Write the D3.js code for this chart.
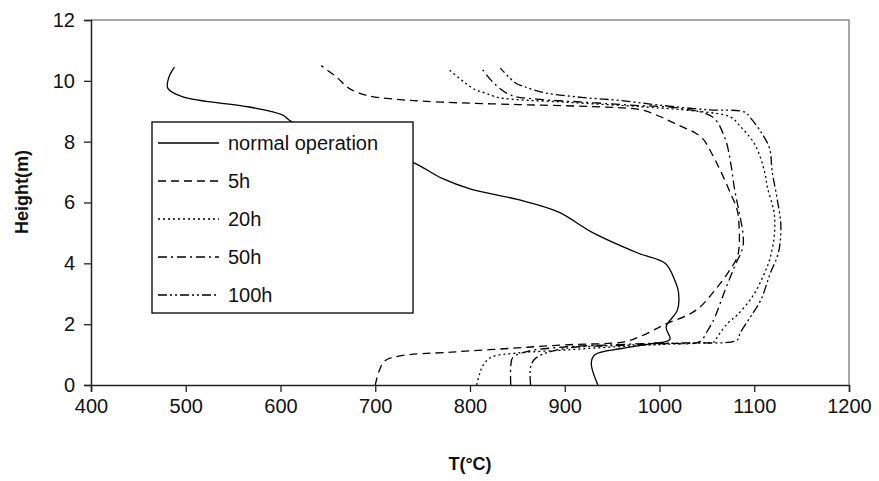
<!DOCTYPE html>
<html>
<head>
<meta charset="utf-8">
<script src="https://cdn.jsdelivr.net/npm/d3@7"></script>
<style>
  body { margin: 0; background: #fff; }
  svg text { font-family: "Liberation Sans", Arial, sans-serif; fill: #111; }
</style>
</head>
<body>
<div id="chart"></div>
<script>
// temperature (°C) / height (m) pairs
var normalT = [935, 928, 932, 960, 990, 1011, 1007, 1019, 1020, 1016, 1006, 977, 930, 893, 850, 800, 770, 739, 680, 612, 602, 567, 497, 481, 482, 488]
var normalH = [0, 0.72, 1.0, 1.2, 1.35, 1.5, 1.91, 2.47, 3.05, 3.45, 4.0, 4.34, 5.0, 5.69, 6.1, 6.45, 6.8, 7.33, 7.9, 8.65, 8.88, 9.14, 9.47, 9.76, 10.1, 10.45]

var h5T = [700, 709, 725, 780, 840, 900, 963, 980, 998, 1006, 1030, 1043, 1058, 1072, 1082, 1084, 1084, 1082, 1075, 1065, 1056, 1044, 1016, 995, 980, 930, 850, 770, 720, 690, 672, 660, 643]
var h5H = [0, 0.76, 0.95, 1.08, 1.2, 1.32, 1.42, 1.6, 1.87, 2.0, 2.3, 2.57, 3.1, 3.68, 4.2, 4.54, 5.2, 5.75, 6.3, 7.0, 7.56, 8.15, 8.6, 8.9, 9.05, 9.15, 9.22, 9.3, 9.4, 9.53, 9.76, 10.1, 10.5]

var h20T = [807, 810, 814, 823, 850, 900, 950, 1000, 1040, 1058, 1061, 1072, 1082, 1098, 1109, 1116, 1121, 1121, 1114, 1111, 1101, 1086, 1075, 1040, 980, 900, 830, 816, 806, 795, 778]
var h20H = [0, 0.35, 0.66, 0.92, 1.05, 1.15, 1.25, 1.33, 1.38, 1.42, 1.58, 2.03, 2.3, 2.9, 3.55, 4.1, 4.87, 5.65, 6.48, 7.0, 7.89, 8.48, 8.81, 9.0, 9.15, 9.3, 9.45, 9.6, 9.7, 9.93, 10.36]

var h50T = [843, 843, 845, 860, 900, 950, 1000, 1042, 1051, 1058, 1069, 1079, 1088, 1088, 1084, 1079, 1075, 1069, 1056, 1020, 970, 920, 870, 843, 825, 812]
var h50H = [0, 0.6, 0.9, 1.1, 1.25, 1.32, 1.38, 1.42, 1.8, 2.2, 3.1, 3.88, 4.54, 5.0, 5.69, 6.48, 7.33, 8.12, 8.81, 9.1, 9.2, 9.3, 9.4, 9.53, 9.93, 10.42]

var h100T = [864, 864, 870, 900, 960, 1020, 1082, 1085, 1096, 1107, 1117, 1124, 1127, 1128, 1124, 1119, 1116, 1107, 1096, 1090, 1050, 1000, 960, 920, 880, 858, 848, 832]
var h100H = [0, 0.6, 0.9, 1.2, 1.3, 1.38, 1.48, 1.7, 2.24, 2.8, 3.68, 4.2, 4.6, 5.3, 6.15, 7.0, 7.79, 8.32, 8.78, 8.97, 9.05, 9.2, 9.35, 9.45, 9.6, 9.8, 9.93, 10.42]

var seriesNames = ['normal operation', '5h', '20h', '50h', '100h']
var xTicks = [400, 500, 600, 700, 800, 900, 1000, 1100, 1200]
var yTicks = [0, 2, 4, 6, 8, 10, 12]

var series = [
  {name: seriesNames[0], t: normalT, h: normalH, dash: null},
  {name: seriesNames[1], t: h5T, h: h5H, dash: '8,5'},
  {name: seriesNames[2], t: h20T, h: h20H, dash: '2,3'},
  {name: seriesNames[3], t: h50T, h: h50H, dash: '9,4,2,4'},
  {name: seriesNames[4], t: h100T, h: h100H, dash: '9,3,2,3,2,3'}
]

var W = 879, H = 481
var pL = 91, pR = 849, pT = 20, pB = 385

var svg = d3.select('#chart').append('svg').attr('width', W).attr('height', H)

var x = d3.scaleLinear().domain([400, 1200]).range([pL, pR])
var y = d3.scaleLinear().domain([0, 12]).range([pB, pT])

// plot area frame (top + right in gray)
svg.append('path')
  .attr('d', 'M' + pL + ',' + pT + 'H' + pR + 'V' + pB)
  .attr('fill', 'none').attr('stroke', '#8c8c8c').attr('stroke-width', 1.5)

var line = d3.line()
  .curve(d3.curveCatmullRom.alpha(0.5))
  .x(function(d){ return x(d[0]) })
  .y(function(d){ return y(d[1]) })

series.forEach(function(s){
  var pts = s.t.map(function(v, i){ return [v, s.h[i]] })
  svg.append('path')
    .attr('d', line(pts))
    .attr('fill', 'none')
    .attr('stroke', '#000')
    .attr('stroke-width', 1.3)
    .attr('stroke-dasharray', s.dash)
})

// axes
var xAxis = svg.append('g').attr('transform', 'translate(0,' + pB + ')')
  .call(d3.axisBottom(x).tickValues(xTicks).tickSize(7).tickPadding(7).tickFormat(d3.format('d')))
var yAxis = svg.append('g').attr('transform', 'translate(' + pL + ',0)')
  .call(d3.axisLeft(y).tickValues(yTicks).tickSize(7).tickPadding(9).tickFormat(d3.format('d')))

;[xAxis, yAxis].forEach(function(g){
  g.select('.domain').attr('stroke', '#222').attr('stroke-width', 1.5)
  g.selectAll('.tick line').attr('stroke', '#222').attr('stroke-width', 1.3)
  g.selectAll('.tick text').style('font-size', '20px').attr('fill', '#333')
})

svg.append('text')
  .attr('x', (pL + pR) / 2).attr('y', 470)
  .attr('text-anchor', 'middle')
  .style('font-size', '18px').style('font-weight', 'bold')
  .text('T(°C)')

svg.append('text')
  .attr('transform', 'translate(28,' + 192 + ') rotate(-90)')
  .attr('text-anchor', 'middle')
  .style('font-size', '18px').style('font-weight', 'bold')
  .text('Height(m)')

// legend
var lg = svg.append('g')
lg.append('rect')
  .attr('x', 152).attr('y', 122).attr('width', 261).attr('height', 191)
  .attr('fill', '#fff').attr('stroke', '#000').attr('stroke-width', 1.3)

series.forEach(function(s, i){
  var cy = 143 + i * 38
  lg.append('line')
    .attr('x1', 158).attr('x2', 219).attr('y1', cy).attr('y2', cy)
    .attr('stroke', '#000').attr('stroke-width', 1.3)
    .attr('stroke-dasharray', s.dash)
  lg.append('text')
    .attr('x', 228).attr('y', cy + 7)
    .style('font-size', '20px')
    .text(s.name)
})
</script>
</body>
</html>
